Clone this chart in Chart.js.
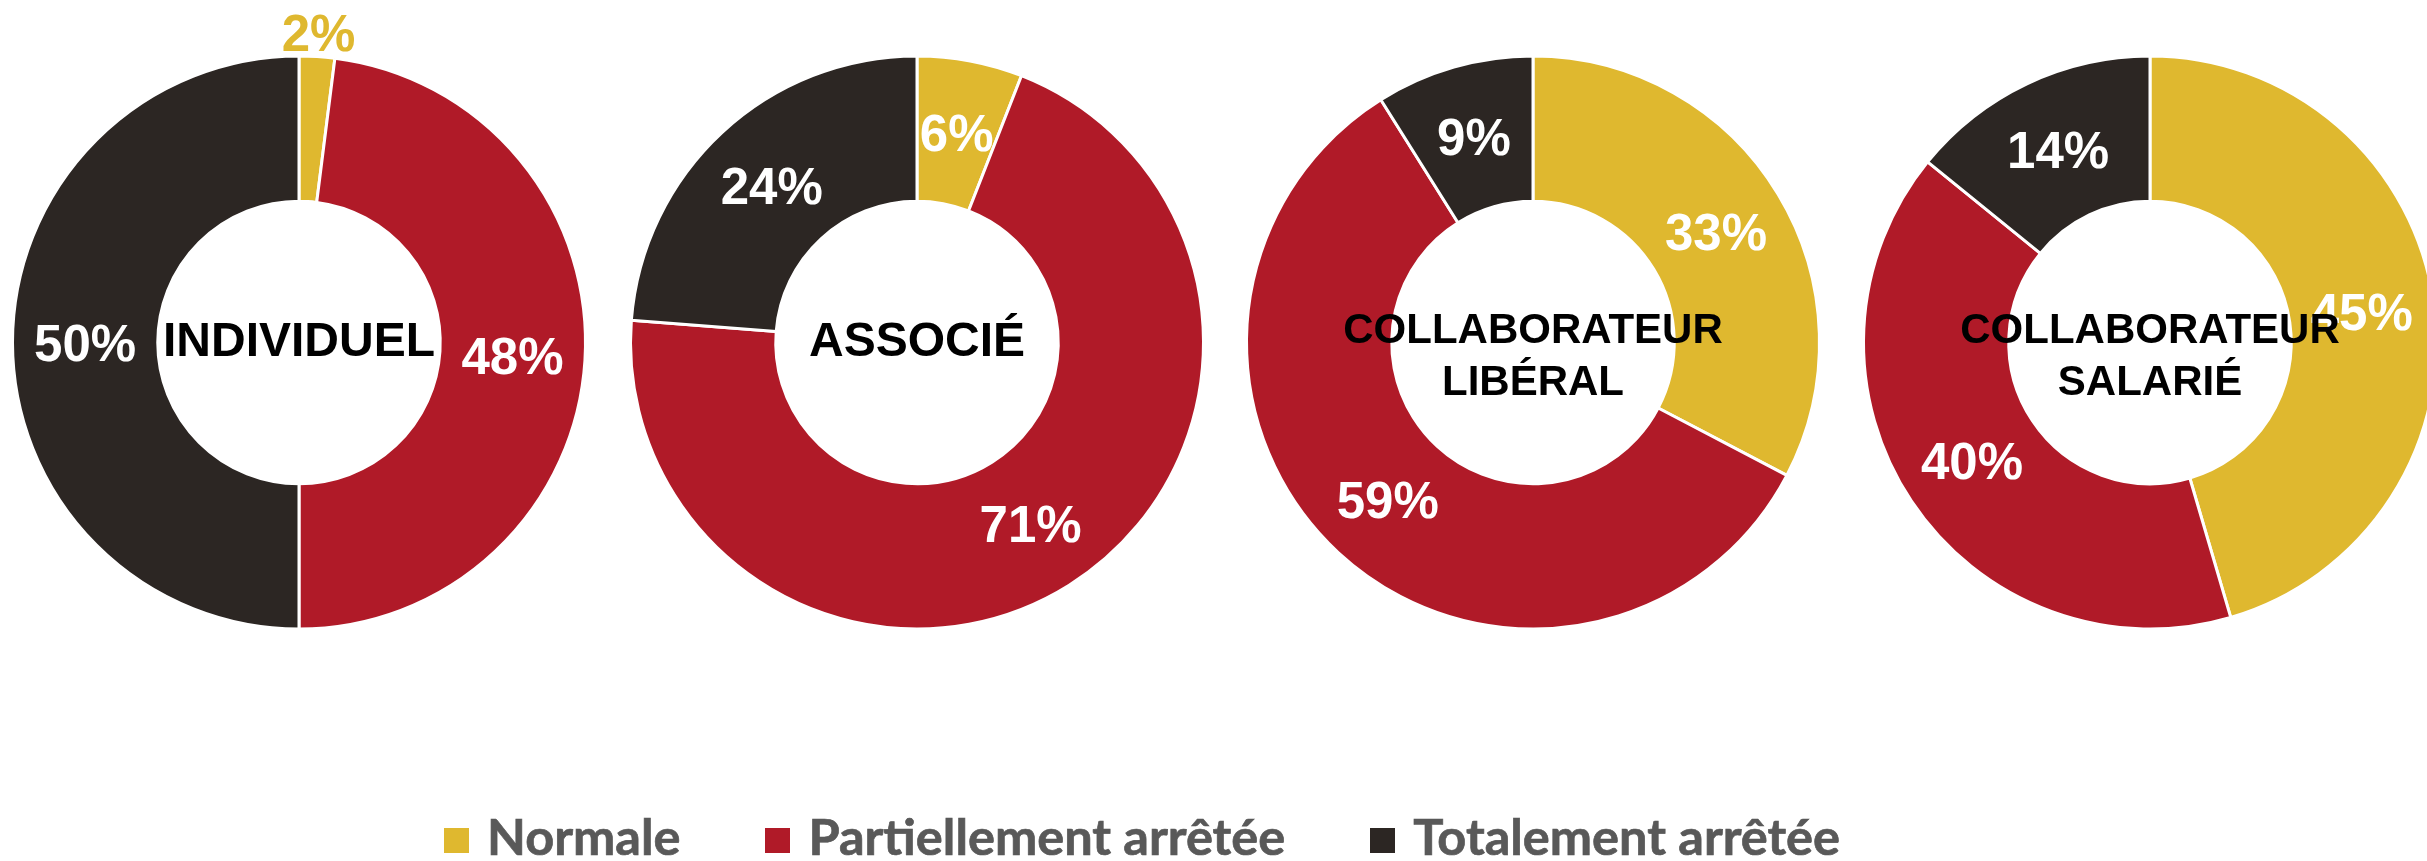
<!DOCTYPE html>
<html>
<head>
<meta charset="utf-8">
<script src="https://cdn.jsdelivr.net/npm/chart.js@4/dist/chart.umd.min.js"></script>
<style>
  html, body { margin: 0; padding: 0; background: #ffffff; width: 2427px; height: 861px; overflow: hidden; }
  .wrap { position: absolute; width: 600px; height: 685px; top: 0px; }
  .legend { position: absolute; left: 444px; top: 811px; display: flex; align-items: center;
            font-family: Lato, "Open Sans", sans-serif; font-weight: 700; font-size: 50.5px; line-height: 50px; color: #595959; white-space: nowrap;
            -webkit-text-stroke: 0.7px #595959; }
  .legend .item { display: flex; align-items: center; margin-right: 85px; }
  .legend .sw { width: 25px; height: 25px; margin-right: 18px; position: relative; top: 4px; }
</style>
</head>
<body>
<div class="wrap" style="left:-1px"><canvas id="c0" width="600" height="685"></canvas></div>
<div class="wrap" style="left:617px"><canvas id="c1" width="600" height="685"></canvas></div>
<div class="wrap" style="left:1233px"><canvas id="c2" width="600" height="685"></canvas></div>
<div class="wrap" style="left:1850px"><canvas id="c3" width="600" height="685"></canvas></div>
<div class="legend" id="legend"></div>
<script>
// ---- data ----
const categories = ['Normale', 'Partiellement arrêtée', 'Totalement arrêtée'];
const chartTitles = [['INDIVIDUEL'], ['ASSOCIÉ'], ['COLLABORATEUR', 'LIBÉRAL'], ['COLLABORATEUR', 'SALARIÉ']];
const normale       = [2, 6, 33, 45];
const partiellement = [48, 71, 59, 40];
const totalement    = [50, 24, 9, 14];
const colors = ['#DFB82F', '#B01A28', '#2C2623'];

const sliceLabels = {
  id: 'sliceLabels',
  afterDatasetsDraw(chart, args, opts) {
    const ctx = chart.ctx;
    const meta = chart.getDatasetMeta(0);
    const ds = chart.data.datasets[0];
    ctx.save();
    const fs = 51;
    ctx.font = 'bold ' + fs + 'px "Liberation Sans", Arial, sans-serif';
    ctx.textAlign = 'center';
    ctx.textBaseline = 'alphabetic';
    let cx = 0, cy = 0;
    meta.data.forEach((arc, i) => {
      const v = ds.data[i];
      const p = arc.getProps(['startAngle', 'endAngle', 'innerRadius', 'outerRadius', 'x', 'y'], true);
      cx = p.x; cy = p.y;
      const mid = (p.startAngle + p.endAngle) / 2;
      let r, color;
      if (v < 4) { r = p.outerRadius + 24; color = ds.backgroundColor[i]; }
      else { r = (p.innerRadius + p.outerRadius) / 2; color = '#FFFFFF'; }
      ctx.fillStyle = color;
      ctx.fillText(v + '%', p.x + Math.cos(mid) * r, p.y + Math.sin(mid) * r + 0.358 * fs);
    });
    // centre title
    const lines = opts.title || [];
    const tfs = lines.length > 1 ? 42 : 48;
    const lh = 52;
    ctx.font = 'bold ' + tfs + 'px "Liberation Sans", Arial, sans-serif';
    ctx.fillStyle = '#000000';
    const blockCenter = cy - 3.5 + (lines.length - 1) * 15;
    lines.forEach((t, k) => {
      const capCenter = blockCenter + (k - (lines.length - 1) / 2) * lh;
      ctx.fillText(t, cx, capCenter + 0.358 * tfs);
    });
    ctx.restore();
  }
};

for (let i = 0; i < 4; i++) {
  new Chart(document.getElementById('c' + i), {
    type: 'doughnut',
    data: {
      labels: categories,
      datasets: [{
        data: [normale[i], partiellement[i], totalement[i]],
        backgroundColor: colors,
        borderColor: '#FFFFFF',
        borderWidth: 3,
        hoverOffset: 0
      }]
    },
    options: {
      responsive: false,
      animation: false,
      devicePixelRatio: 1,
      radius: 286.5,
      cutout: '49.3%',
      layout: { padding: 0 },
      plugins: {
        legend: { display: false },
        tooltip: { enabled: false },
        sliceLabels: { title: chartTitles[i] }
      }
    },
    plugins: [sliceLabels]
  });
}

// legend built from categories/colors
const lg = document.getElementById('legend');
categories.forEach((c, k) => {
  const it = document.createElement('div');
  it.className = 'item';
  const sw = document.createElement('span');
  sw.className = 'sw';
  sw.style.background = colors[k];
  const tx = document.createElement('span');
  tx.textContent = c;
  it.appendChild(sw); it.appendChild(tx);
  lg.appendChild(it);
});
</script>
</body>
</html>
